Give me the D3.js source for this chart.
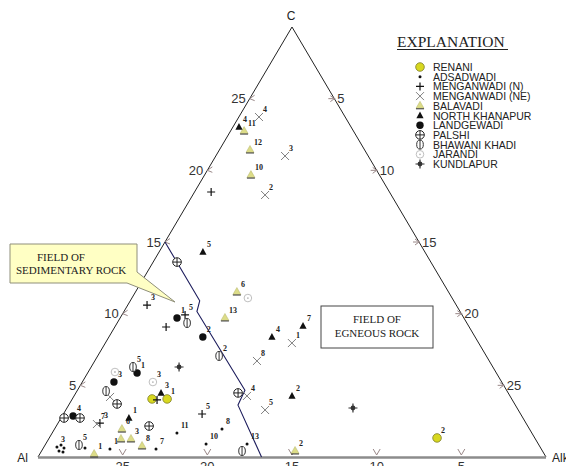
<!DOCTYPE html>
<html>
<head>
<meta charset="utf-8">
<script src="https://cdn.jsdelivr.net/npm/d3@7"></script>
<style>
  html, body { margin: 0; padding: 0; background: #fff; }
  svg { display: block; }
</style>
</head>
<body>
<svg id="chart" width="566" height="466"></svg>
<script>
// Ternary plot Al – C – Alk (each side spans 30 units).
// Every sample is given by its C and Alk values; Al = 30 - C - Alk.

const tickValues = [5, 10, 15, 20, 25];

// Boundary between the sedimentary and igneous fields
const boundaryC   = [15, 10.9, 10.15, 4.66, 3.62, 0];
const boundaryAlk = [0, 4.1, 4.31, 9.89, 10.0, 13.2];

const seriesNames = ["RENANI", "ADSADWADI", "MENGANWADI (N)", "MENGANWADI (NE)", "BALAVADI",
  "NORTH KHANAPUR", "LANDGEWADI", "PALSHI", "BHAWANI KHADI", "JARANDI", "KUNDLAPUR"];
const seriesKeys = ["renani", "adsadwadi", "menganN", "menganNE", "balavadi",
  "khanapur", "landgewadi", "palshi", "bhawani", "jarandi", "kundlapur"];

const renaniC     = [4.05, 4.05, 1.33];
const renaniAlk   = [4.71, 5.60, 22.90];
const renaniLabel = ["", "1", "2"];

const adsadwadiC     = [1.67, 0.56, 1.95, 0.91, 0.91, 0.56, 0.63, 0.70, 0.84, 0.63, 0.42, 0.35];
const adsadwadiAlk   = [7.37, 6.69, 9.89, 9.47, 11.89, 3.97, 2.46, 0.77, 0.94, 1.22, 1.03, 1.30];
const adsadwadiLabel = ["11", "7", "8", "10", "13", "1", "", "3", "", "", "", ""];

const menganNC     = [10.60, 9.07, 9.91, 18.49, 3.98, 2.37, 3.00];
const menganNAlk   = [1.14, 3.03, 3.73, 0.98, 5.04, 2.47, 8.19];
const menganNLabel = ["3", "", "5", "", "", "3", "5"];

const menganNEC     = [23.72, 21.0, 18.28, 6.70, 4.26, 3.28, 7.95, 2.30, 4.19];
const menganNEAlk   = [1.19, 4.09, 4.27, 9.58, 10.21, 11.77, 11.02, 2.33, 2.16];
const menganNELabel = ["4", "3", "2", "8", "4", "5", "1", "7", ""];

const balavadiC     = [22.74, 21.42, 19.67, 11.51, 9.70, 0.42, 1.95, 1.26, 1.26, 0.77, 0.21];
const balavadiAlk   = [0.80, 1.81, 2.74, 5.99, 6.19, 14.97, 3.98, 4.27, 4.86, 5.76, 3.21];
const balavadiLabel = ["11", "12", "10", "6", "13", "2", "6", "", "3", "8", "1"];

const khanapurC     = [23.02, 14.30, 8.37, 9.14, 4.47, 2.72, 4.26];
const khanapurAlk   = [0.36, 2.59, 9.63, 11.08, 5.03, 4.01, 12.87];
const khanapurLabel = ["4", "5", "4", "7", "3", "1", "2"];

const landgewadiC     = [5.86, 5.23, 2.86, 9.70, 8.37];
const landgewadiAlk   = [2.92, 1.87, 0.64, 3.36, 5.55];
const landgewadiLabel = ["1", "3", "4", "1", "2"];

const palshiC     = [2.72, 2.72, 3.70, 2.16, 4.47, 13.60];
const palshiAlk   = [0.18, 1.12, 2.82, 5.48, 9.58, 1.41];
const palshiLabel = ["", "", "", "", "", ""];

const bhawaniC     = [6.28, 4.60, 0.84, 7.05, 9.35, 0.42];
const bhawaniAlk   = [2.47, 1.72, 2.00, 7.17, 4.13, 11.84];
const bhawaniLabel = ["5", "", "5", "2", "", ""];

const jarandiC     = [5.93, 5.23, 11.09];
const jarandiAlk   = [1.58, 4.17, 6.85];
const jarandiLabel = ["", "3", ""];

const kundlapurC     = [6.28, 3.42];
const kundlapurAlk   = [5.19, 16.89];
const kundlapurLabel = ["", ""];

const seriesC     = [renaniC, adsadwadiC, menganNC, menganNEC, balavadiC, khanapurC, landgewadiC, palshiC, bhawaniC, jarandiC, kundlapurC];
const seriesAlk   = [renaniAlk, adsadwadiAlk, menganNAlk, menganNEAlk, balavadiAlk, khanapurAlk, landgewadiAlk, palshiAlk, bhawaniAlk, jarandiAlk, kundlapurAlk];
const seriesLabel = [renaniLabel, adsadwadiLabel, menganNLabel, menganNELabel, balavadiLabel, khanapurLabel, landgewadiLabel, palshiLabel, bhawaniLabel, jarandiLabel, kundlapurLabel];

// ---------- scales ----------
const total = 30;
const x = d3.scaleLinear().domain([0, total]).range([38, 546]);   // along the Al–Alk base
const y = d3.scaleLinear().domain([0, total]).range([457, 27]);   // C height
const px = (c, alk) => x(alk + c / 2);
const py = (c) => y(c);

const svg = d3.select("#chart");
const sans = "'Liberation Sans', Arial, sans-serif";
const serif = "'Liberation Serif', 'Times New Roman', serif";

// ---------- triangle ----------
const A = [px(0, 0), py(0)], K = [px(0, total), py(0)], Cv = [px(total, 0), py(total)];
svg.append("line").attr("x1", A[0]).attr("y1", A[1]).attr("x2", Cv[0]).attr("y2", Cv[1])
  .attr("stroke", "#222").attr("stroke-width", 1);
svg.append("line").attr("x1", Cv[0]).attr("y1", Cv[1]).attr("x2", K[0]).attr("y2", K[1])
  .attr("stroke", "#222").attr("stroke-width", 1);
svg.append("line").attr("x1", A[0]).attr("y1", A[1] + 0.5).attr("x2", K[0]).attr("y2", K[1] + 0.5)
  .attr("stroke", "#8c8c8c").attr("stroke-width", 2.6);

// ---------- ticks ----------
const tickColor = "#9a8888";
const gT = svg.append("g");
tickValues.forEach(v => {
  // left side (C)
  let tx = px(v, 0), ty = py(v);
  gT.append("path").attr("d", `M${tx + 5},${ty - 3.5} L${tx},${ty} L${tx + 5},${ty + 2}`)
    .attr("fill", "none").attr("stroke", tickColor).attr("stroke-width", 1);
  gT.append("text").attr("x", tx - 4).attr("y", ty + 4.5).attr("text-anchor", "end")
    .attr("font-family", sans).attr("font-size", 13).attr("fill", "#333").text(v);
  // right side (Alk)
  tx = px(total - v, v); ty = py(total - v);
  gT.append("path").attr("d", `M${tx - 6},${ty} L${tx + 1},${ty} M${tx - 4},${ty - 3} L${tx},${ty} L${tx - 4},${ty + 3}`)
    .attr("fill", "none").attr("stroke", tickColor).attr("stroke-width", 1);
  gT.append("text").attr("x", tx + 3).attr("y", ty + 4.5).attr("text-anchor", "start")
    .attr("font-family", sans).attr("font-size", 13).attr("fill", "#333").text(v);
  // base (Al)
  tx = px(0, total - v); ty = py(0);
  gT.append("path").attr("d", `M${tx - 3.5},${ty - 8} L${tx},${ty - 2} L${tx + 3.5},${ty - 8}`)
    .attr("fill", "none").attr("stroke", tickColor).attr("stroke-width", 1);
  gT.append("text").attr("x", tx).attr("y", ty + 14).attr("text-anchor", "middle")
    .attr("font-family", sans).attr("font-size", 13).attr("fill", "#333").text(v);
});

// vertex labels
svg.append("text").attr("x", Cv[0] - 1).attr("y", Cv[1] - 7).attr("text-anchor", "middle")
  .attr("font-family", sans).attr("font-size", 12).attr("fill", "#222").text("C");
svg.append("text").attr("x", A[0] - 10).attr("y", A[1] + 5).attr("text-anchor", "end")
  .attr("font-family", sans).attr("font-size", 12).attr("fill", "#222").text("Al");
svg.append("text").attr("x", K[0] + 6).attr("y", K[1] + 5).attr("text-anchor", "start")
  .attr("font-family", sans).attr("font-size", 12).attr("fill", "#222").text("Alk");

// ---------- field boundary ----------
const boundary = boundaryC.map((c, i) => [px(c, boundaryAlk[i]), py(c)]);
svg.append("path").attr("d", d3.line()(boundary))
  .attr("fill", "none").attr("stroke", "#1c1c5c").attr("stroke-width", 1.1);

// ---------- field boxes ----------
svg.append("path")
  .attr("d", "M10,244 H137 V272 L175,302 L127,283 H10 Z")
  .attr("fill", "#ffffc4").attr("stroke", "#8f8f7a").attr("stroke-width", 1);
svg.append("text").attr("x", 37).attr("y", 261).attr("font-family", serif).attr("font-size", 11)
  .attr("fill", "#222").text("FIELD OF");
svg.append("text").attr("x", 16).attr("y", 274).attr("font-family", serif).attr("font-size", 11)
  .attr("fill", "#222").text("SEDIMENTARY ROCK");

svg.append("rect").attr("x", 321).attr("y", 306).attr("width", 112).attr("height", 42)
  .attr("fill", "#fff").attr("stroke", "#444").attr("stroke-width", 1);
svg.append("text").attr("x", 377).attr("y", 323).attr("text-anchor", "middle").attr("font-family", serif)
  .attr("font-size", 11).attr("fill", "#222").text("FIELD OF");
svg.append("text").attr("x", 377).attr("y", 337).attr("text-anchor", "middle").attr("font-family", serif)
  .attr("font-size", 11).attr("fill", "#222").text("EGNEOUS  ROCK");

// ---------- symbols ----------
function drawSymbol(g, key, cx, cy) {
  switch (key) {
    case "renani":
      g.append("circle").attr("cx", cx).attr("cy", cy).attr("r", 4.3)
        .attr("fill", "#d8d820").attr("stroke", "#7d7d2a").attr("stroke-width", 0.8);
      break;
    case "adsadwadi":
      g.append("circle").attr("cx", cx).attr("cy", cy).attr("r", 1.5).attr("fill", "#111");
      break;
    case "menganN":
      g.append("path").attr("d", `M${cx - 4},${cy} H${cx + 4} M${cx},${cy - 4} V${cy + 4}`)
        .attr("stroke", "#111").attr("stroke-width", 1.2);
      break;
    case "menganNE":
      g.append("path").attr("d", `M${cx - 4},${cy - 4} L${cx + 4},${cy + 4} M${cx - 4},${cy + 4} L${cx + 4},${cy - 4}`)
        .attr("stroke", "#808080").attr("stroke-width", 1);
      break;
    case "balavadi":
      g.append("path").attr("d", `M${cx},${cy - 4.5} L${cx + 4},${cy + 2.5} L${cx - 4},${cy + 2.5} Z`)
        .attr("fill", "#dcdc88").attr("stroke", "#b4b46a").attr("stroke-width", 0.5);
      g.append("line").attr("x1", cx - 4).attr("x2", cx + 4).attr("y1", cy + 3).attr("y2", cy + 3)
        .attr("stroke", "#333").attr("stroke-width", 1);
      break;
    case "khanapur":
      g.append("path").attr("d", `M${cx},${cy - 4} L${cx + 3.6},${cy + 2.8} L${cx - 3.6},${cy + 2.8} Z`)
        .attr("fill", "#111");
      break;
    case "landgewadi":
      g.append("circle").attr("cx", cx).attr("cy", cy).attr("r", 3.7).attr("fill", "#111");
      break;
    case "palshi":
      g.append("circle").attr("cx", cx).attr("cy", cy).attr("r", 4.3)
        .attr("fill", "#fff").attr("stroke", "#222").attr("stroke-width", 1);
      g.append("path").attr("d", `M${cx - 4.3},${cy} H${cx + 4.3} M${cx},${cy - 4.3} V${cy + 4.3}`)
        .attr("stroke", "#222").attr("stroke-width", 1);
      break;
    case "bhawani":
      g.append("ellipse").attr("cx", cx).attr("cy", cy).attr("rx", 3.3).attr("ry", 4.5)
        .attr("fill", "#fff").attr("stroke", "#333").attr("stroke-width", 1);
      g.append("line").attr("x1", cx).attr("x2", cx).attr("y1", cy - 4.5).attr("y2", cy + 4.5)
        .attr("stroke", "#333").attr("stroke-width", 1);
      break;
    case "jarandi":
      g.append("circle").attr("cx", cx).attr("cy", cy).attr("r", 3.8)
        .attr("fill", "none").attr("stroke", "#b8b8b8").attr("stroke-width", 0.9);
      g.append("circle").attr("cx", cx).attr("cy", cy).attr("r", 0.9).attr("fill", "#b8b8b8");
      break;
    case "kundlapur":
      g.append("path").attr("d", `M${cx - 4.5},${cy} H${cx + 4.5} M${cx},${cy - 4.5} V${cy + 4.5}`)
        .attr("stroke", "#333").attr("stroke-width", 1.2);
      g.append("circle").attr("cx", cx).attr("cy", cy).attr("r", 2.4).attr("fill", "#333");
      break;
  }
}

// ---------- samples ----------
const gP = svg.append("g");
seriesKeys.forEach((key, s) => {
  seriesC[s].forEach((c, i) => {
    const cx = px(c, seriesAlk[s][i]), cy = py(c);
    drawSymbol(gP, key, cx, cy);
    const lab = seriesLabel[s][i];
    if (lab) {
      gP.append("text").attr("x", cx + 4).attr("y", cy - 5)
        .attr("font-family", serif).attr("font-size", 8).attr("font-weight", "bold")
        .attr("fill", "#222").text(lab);
    }
  });
});

// ---------- legend ----------
const gL = svg.append("g");
gL.append("text").attr("x", 397).attr("y", 47).attr("font-family", serif).attr("font-size", 15.5)
  .attr("fill", "#222").text("EXPLANATION");
gL.append("line").attr("x1", 397).attr("x2", 508).attr("y1", 49.5).attr("y2", 49.5)
  .attr("stroke", "#222").attr("stroke-width", 1);
seriesNames.forEach((name, i) => {
  const ly = 67 + i * 9.7;
  drawSymbol(gL, seriesKeys[i], 420, ly);
  gL.append("text").attr("x", 433).attr("y", ly + 4).attr("font-family", sans)
    .attr("font-size", 10.5).attr("fill", "#222").text(name);
});
</script>
</body>
</html>
